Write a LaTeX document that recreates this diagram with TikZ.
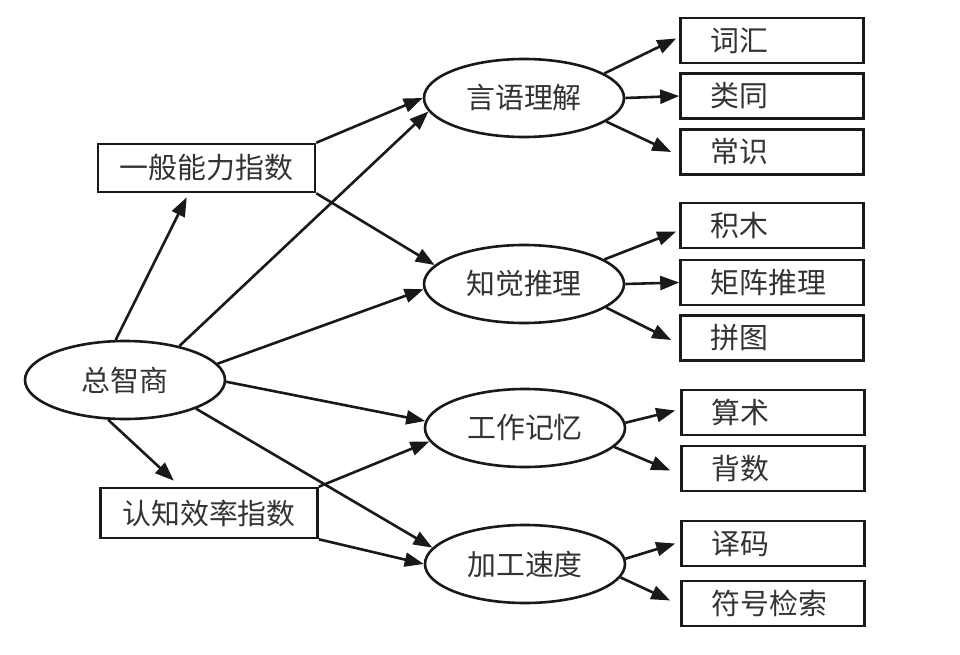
\documentclass[tikz,border=0pt]{standalone}
\usepackage{fontspec}
\setmainfont{Noto Sans CJK SC}
\usetikzlibrary{shapes.geometric,arrows.meta,calc}
\begin{document}
\begin{tikzpicture}[x=1bp,y=-1bp,
  line width=2.6bp,
  ell/.style={ellipse,draw=black!90,minimum width=200bp,minimum height=78bp,inner sep=0pt},
  midbox/.style={rectangle,draw=black!90,minimum width=217bp,minimum height=48bp,inner sep=0pt},
  leafbox/.style={rectangle,draw=black!90,minimum width=183bp,minimum height=45bp,inner xsep=30bp,inner ysep=0pt,text width=123bp,align=left},
  arr/.style={draw=black!90,-{Triangle[length=19bp,width=14bp]}},
  every node/.style={font=\fontsize{29}{31}\selectfont,text=black!80}]
\useasboundingbox[fill=white] (0,0) rectangle (960,655);
% nodes
\node[ell] (zq) at (125,380) {总智商};
\node[midbox] (yb) at (206.5,168) {一般能力指数};
\node[midbox,minimum height=50bp] (rz) at (209,513) {认知效率指数};
\node[ell] (yy) at (524,98) {言语理解};
\node[ell] (zj) at (524,284) {知觉推理};
\node[ell] (gz) at (525,428) {工作记忆};
\node[ell] (jg) at (525,564) {加工速度};
\node[leafbox] (ch) at (772,40.5) {词汇};
\node[leafbox] (lt) at (772,96) {类同};
\node[leafbox] (cs) at (772,152) {常识};
\node[leafbox] (jm) at (772,225.5) {积木};
\node[leafbox] (jz) at (772,282.5) {矩阵推理};
\node[leafbox] (pt) at (772,338) {拼图};
\node[leafbox] (ss) at (773,412.5) {算术};
\node[leafbox] (bs) at (773,468.5) {背数};
\node[leafbox] (ym) at (773,543.5) {译码};
\node[leafbox] (fh) at (773,603.5) {符号检索};
% left connectors
\draw[arr] (zq.103) -- ($(yb.south west)!0.41!(yb.south east)+(0,4)$);
\draw[arr] (zq.32) -- (yy.188);
\draw[arr] (yb.north east) -- (yy.west);
\draw[arr] (yb.south east) -- (zj.168);
\draw[arr] (zq.10) -- (zj.183);
\draw[arr] (zq.-1) -- (gz.176);
\draw[arr] (zq.-22) -- (jg.170);
\draw[arr] (zq.-113) -- ($(rz.north west)!0.34!(rz.north east)+(0,-6)$);
\draw[arr] (rz.north east) -- (gz.188);
\draw[arr] (rz.south east) -- (jg.west);
% right connectors
\draw[arr] (yy.17) -- ($(ch.west)+(-3,-2)$);
\draw[arr] (yy.east) -- (lt.west);
\draw[arr] (yy.-16) -- ($(cs.west)+(-8,0)$);
\draw[arr] (zj.17) -- ($(jm.west)+(-3,6)$);
\draw[arr] (zj.east) -- (jz.west);
\draw[arr] (zj.-16) -- ($(pt.west)+(-8,2)$);
\draw[arr] (gz.3) -- ($(ss.west)+(-5,-2)$);
\draw[arr] (gz.-12) -- ($(bs.west)+(-10,2)$);
\draw[arr] (jg.3) -- ($(ym.west)+(-5,0)$);
\draw[arr] (jg.-8) -- ($(fh.west)+(-10,-3)$);
\end{tikzpicture}
\end{document}
